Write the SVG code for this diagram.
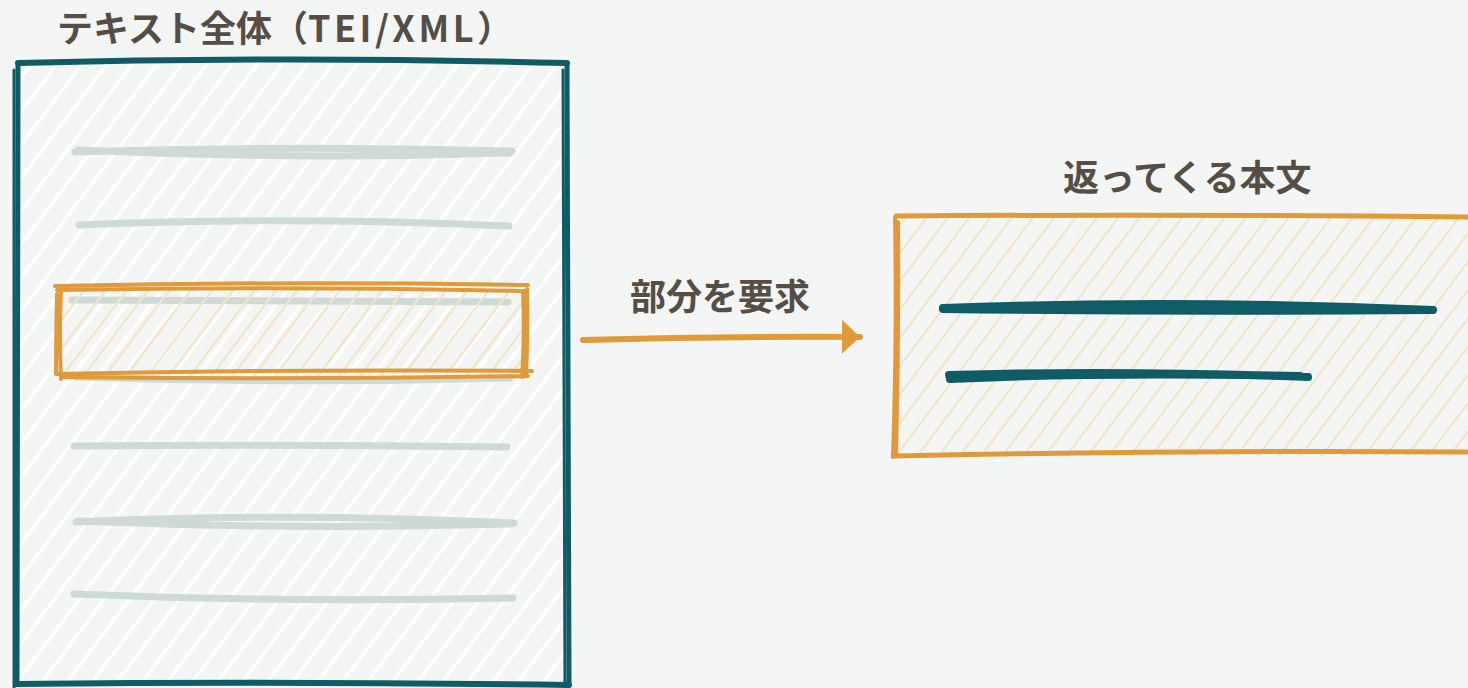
<svg xmlns="http://www.w3.org/2000/svg" width="1468" height="688" viewBox="0 0 1468 688">
<defs>
<style>
.title{font-family:"Noto Sans CJK JP","Noto Sans",sans-serif;font-weight:700;font-size:36px;fill:#564e45}
.latin{letter-spacing:3.5px}
.teal{fill:none;stroke:#0f5c66;stroke-linecap:round;stroke-linejoin:round}
.orange{fill:none;stroke:#e09a3a;stroke-linecap:round;stroke-linejoin:round}
.gray{fill:none;stroke:#cddad6;stroke-linecap:round;stroke-width:7}
.tline{fill:none;stroke:#0f5c66;stroke-linecap:round;stroke-width:8}
</style>
<pattern id="hatchW" patternUnits="userSpaceOnUse" width="20" height="20" patternTransform="rotate(37)">
<line x1="4" y1="0" x2="4" y2="20" stroke="#ffffff" stroke-width="3"/>
</pattern>
<pattern id="hatchO" patternUnits="userSpaceOnUse" width="17" height="17" patternTransform="rotate(37)">
<line x1="4" y1="0" x2="4" y2="17" stroke="#f6e3c6" stroke-width="2.2"/>
</pattern>
<marker id="arrow" markerUnits="userSpaceOnUse" markerWidth="24" markerHeight="36" refX="19" refY="18" orient="auto">
<path d="M1,1 L19,18 L1,35 Z" fill="#e09a3a"/>
</marker>
</defs>
<rect width="1468" height="688" fill="#f4f6f5"/>

<g id="node-full-text">
<rect x="18" y="62" width="549" height="622" fill="url(#hatchW)"/>
<path class="teal" stroke-width="6" d="M18,63 Q290,56 567,63"/>
<path class="teal" stroke-width="5" d="M18,64 Q17,370 17,684"/>
<path class="teal" stroke-width="3" d="M14,70 Q15,380 14,688"/>
<path class="teal" stroke-width="5" d="M567,63 Q568,370 569,685"/>
<path class="teal" stroke-width="3" d="M563,70 Q564,380 565,688"/>
<path class="teal" stroke-width="6" d="M16,684 Q290,681 569,685"/>
<path class="gray" d="M75,152 Q290,145 512,151 M78,150 Q290,160 510,153"/>
<path class="gray" d="M79,225 Q290,216 509,226"/>
<path class="gray" d="M72,300 L508,302" stroke-linecap="butt" stroke-width="10"/>
<path class="gray" d="M76,377 Q290,384 510,378"/>
<path class="gray" d="M74,446 Q290,444 507,447"/>
<path class="gray" d="M76,522 Q290,512 514,523 M79,521 Q290,530 511,524"/>
<path class="gray" d="M74,594 Q290,603 513,598"/>
<text class="title" x="57" y="42">テキスト全体（<tspan class="latin">TEI/XML</tspan>）</text>
</g>

<g id="node-selected">
<rect x="60" y="288" width="467" height="88" fill="url(#hatchO)"/>
<path class="orange" stroke-width="4" d="M55,286 Q290,281 528,285 M57,290 Q290,286 526,291"/>
<path class="orange" stroke-width="4" d="M61,290 Q59,335 61,379 M57,294 Q56,335 56,373"/>
<path class="orange" stroke-width="4" d="M523,292 Q525,335 522,377 M527,289 Q528,335 526,375"/>
<path class="orange" stroke-width="4" d="M56,374 Q290,369 532,371 M63,377 Q290,380 528,376"/>
</g>

<g id="node-returned">
<rect x="896" y="217" width="572" height="239" fill="url(#hatchO)"/>
<path class="orange" stroke-width="5" d="M896,216 Q1180,214 1468,217"/>
<path class="orange" stroke-width="4" d="M895,218 Q897,340 893,457 M898,222 Q899,340 896,455"/>
<path class="orange" stroke-width="5" d="M893,456 Q1180,450 1468,452"/>
<path class="tline" stroke-width="9" d="M943,308 Q1180,299 1433,310"/>
<path class="tline" stroke-width="5" d="M943,309 Q1180,312 1430,310"/>
<path class="tline" d="M949,375 Q1120,370 1308,377 M950,379 Q1100,372 1300,376"/>
<text class="title" x="1063" y="191">返ってくる本文</text>
</g>

<g id="connectors">
<path class="orange" stroke-width="6" d="M583,340 Q720,336 860,337" marker-end="url(#arrow)"/>
<text class="title" x="630" y="310">部分を要求</text>
</g>
</svg>
